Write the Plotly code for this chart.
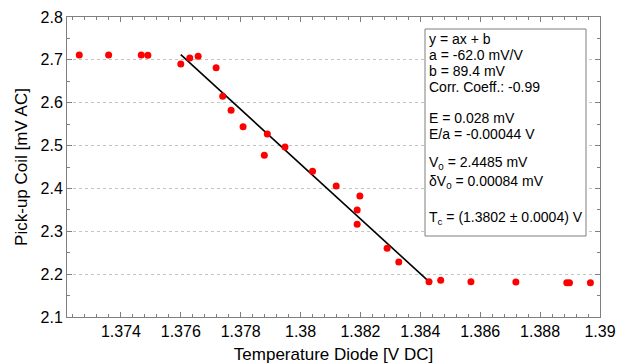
import plotly.graph_objects as go

# Data
temp_diode = [1.37261, 1.37359, 1.37468, 1.37490, 1.37600, 1.37630, 1.37658,
              1.37718, 1.37740, 1.37768, 1.37808, 1.37879, 1.37889, 1.37948,
              1.38040, 1.38119, 1.38189, 1.38189, 1.38198, 1.38289, 1.38328,
              1.38429, 1.38468, 1.38569, 1.38719, 1.38889, 1.38898, 1.38968]
pickup_coil = [2.7113, 2.7113, 2.7113, 2.7105, 2.6903, 2.7043, 2.7083,
               2.6817, 2.6150, 2.5823, 2.5440, 2.4773, 2.5270, 2.4967,
               2.4400, 2.4057, 2.3497, 2.3163, 2.3823, 2.2603, 2.2284,
               2.1825, 2.1856, 2.1825, 2.1817, 2.1801, 2.1801, 2.1801]

fit_x = [1.37600, 1.38429]
fit_y = [2.7120, 2.1826]

box_lines = [
    "y = ax + b",
    "a = -62.0 mV/V",
    "b = 89.4 mV",
    "Corr. Coeff.: -0.99",
    "E = 0.028 mV",
    "E/a = -0.00044 V",
    "V<sub>0</sub> = 2.4485 mV",
    "δV<sub>0</sub> = 0.00084 mV",
    "T<sub>c</sub> = (1.3802 ± 0.0004) V",
]
box_line_px = [39, 55, 71, 87, 118, 134, 163, 182, 218]

x_title = "Temperature Diode [V DC]"
y_title = "Pick-up Coil [mV AC]"

W, H = 625, 364
L, R, T, B = 67, 25, 17, 47
pw, ph = W - L - R, H - T - B

def px2paper_x(px):
    return (px - L) / pw

def px2paper_y(py):
    return (H - B - py) / ph

font_family = "Liberation Sans, Arial, sans-serif"
axis_color = "#7f7f7f"

fig = go.Figure()
fig.add_trace(go.Scatter(x=fit_x, y=fit_y, mode="lines",
                         line=dict(color="black", width=1.6),
                         showlegend=False, hoverinfo="skip"))
fig.add_trace(go.Scatter(x=temp_diode, y=pickup_coil, mode="markers",
                         marker=dict(color="#ff0000", size=7, line=dict(width=0)),
                         showlegend=False))

fig.add_shape(type="rect", xref="paper", yref="paper",
              x0=px2paper_x(425), x1=px2paper_x(586),
              y0=px2paper_y(236), y1=px2paper_y(29),
              line=dict(color=axis_color, width=1), fillcolor="white", layer="above")

for txt, py in zip(box_lines, box_line_px):
    fig.add_annotation(text=txt, xref="paper", yref="paper",
                       x=px2paper_x(427), y=px2paper_y(py),
                       xanchor="left", yanchor="middle", showarrow=False,
                       font=dict(family=font_family, size=14, color="black"))

fig.update_layout(
    width=W, height=H,
    margin=dict(l=L, r=R, t=T, b=B, autoexpand=False),
    paper_bgcolor="white", plot_bgcolor="white",
    font=dict(family=font_family, size=16, color="black"),
    xaxis=dict(
        range=[1.3722, 1.39], dtick=0.002, tick0=0, automargin=False,
        showgrid=False, zeroline=False,
        showline=True, linecolor=axis_color, linewidth=1, mirror="ticks",
        ticks="inside", ticklen=5, tickcolor=axis_color,
        minor=dict(dtick=0.0004, ticks="inside", ticklen=3, tickcolor=axis_color, showgrid=False),
        title=dict(text=x_title, standoff=8, font=dict(size=17)),
        tickfont=dict(size=16),
    ),
    yaxis=dict(
        range=[2.1, 2.8], dtick=0.1, automargin=False,
        showgrid=True, gridcolor="#c4c4c4", griddash="dot", gridwidth=1,
        zeroline=False,
        showline=True, linecolor=axis_color, linewidth=1, mirror="ticks",
        ticks="inside", ticklen=5, tickcolor=axis_color,
        minor=dict(dtick=0.05, ticks="inside", ticklen=3, tickcolor=axis_color, showgrid=False),
        title=dict(text=y_title, standoff=8, font=dict(size=17)),
        tickfont=dict(size=16),
    ),
)

fig.write_html(
    "out.html",
    config={"displayModeBar": False},
    post_script="document.body.style.margin='0';document.body.style.overflow='hidden';",
)
